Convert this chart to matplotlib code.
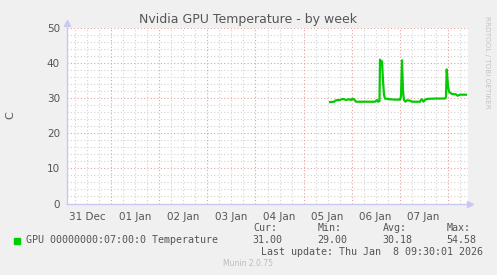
import pandas as pd
import matplotlib
matplotlib.use('Agg')
import matplotlib.pyplot as plt
import matplotlib.dates as mdates

# samples (GPU temperature, deg C)
times = ['2026-01-05 13:15', '2026-01-05 15:15', '2026-01-05 16:15', '2026-01-05 18:15',
         '2026-01-05 19:45', '2026-01-05 21:15', '2026-01-05 22:45', '2026-01-05 23:45',
         '2026-01-06 00:15', '2026-01-06 01:15', '2026-01-06 02:15', '2026-01-06 06:45',
         '2026-01-06 11:45', '2026-01-06 12:45', '2026-01-06 13:15', '2026-01-06 14:00',
         '2026-01-06 14:15', '2026-01-06 14:45', '2026-01-06 15:15', '2026-01-06 15:45',
         '2026-01-06 16:15', '2026-01-06 16:45', '2026-01-06 19:15', '2026-01-06 21:45',
         '2026-01-07 00:15', '2026-01-07 00:45', '2026-01-07 01:15', '2026-01-07 01:45',
         '2026-01-07 02:15', '2026-01-07 03:00', '2026-01-07 03:45', '2026-01-07 05:15',
         '2026-01-07 06:15', '2026-01-07 08:15', '2026-01-07 10:15', '2026-01-07 10:45',
         '2026-01-07 11:15', '2026-01-07 12:00', '2026-01-07 12:45', '2026-01-07 13:45',
         '2026-01-07 17:45', '2026-01-07 22:45', '2026-01-07 23:15', '2026-01-07 23:36',
         '2026-01-08 00:15', '2026-01-08 00:45', '2026-01-08 02:15', '2026-01-08 04:15',
         '2026-01-08 05:00', '2026-01-08 06:15', '2026-01-08 09:15']
temps = [28.9, 29.0, 29.4, 29.5,
         29.8, 29.5, 29.7, 29.5,
         29.8, 29.7, 29.0, 29.0,
         29.0, 29.5, 29.0, 29.2,
         41.0, 40.0, 40.5, 35.0,
         31.0, 29.9, 29.7, 29.6,
         29.6, 30.5, 40.8, 32.0,
         29.5, 29.0, 29.4, 29.3,
         29.0, 29.0, 29.0, 29.5,
         29.7, 29.0, 29.5, 29.8,
         29.9, 29.9, 30.3, 38.2,
         33.5, 31.8, 31.2, 31.1,
         30.7, 31.0, 31.0]

day_labels = ['31 Dec', '01 Jan', '02 Jan', '03 Jan', '04 Jan', '05 Jan', '06 Jan', '07 Jan']
label_noons = pd.date_range('2025-12-31 12:00', periods=8, freq='D')
legend_name = 'GPU 00000000:07:00:0 Temperature'
cur, vmin, avg, vmax = '31.00', '29.00', '30.18', '54.58'

t = mdates.date2num(pd.to_datetime(times))
x_start = mdates.date2num(pd.Timestamp('2025-12-31 01:45'))
x_end = mdates.date2num(pd.Timestamp('2026-01-08 10:15'))

W, H = 497, 275
fig = plt.figure(figsize=(W / 100, H / 100), dpi=100, facecolor='#F0F0F0')
ax = fig.add_axes([67 / W, 1 - 203.5 / H, 401 / W, 175.5 / H])
ax.set_facecolor('white')

# grid: minor grey dots, major red dots
minor_c = '#D2D2D2'
major_c = '#E4A0A0'
for v in range(0, 51, 2):
    if v % 10:
        ax.axhline(v, color=minor_c, lw=0.8, ls=(0, (1, 2)), zorder=1)
for v in range(10, 51, 10):
    ax.axhline(v, color=major_c, lw=0.8, ls=(0, (1, 2)), zorder=1)
for xv in pd.date_range('2025-12-31 06:00', '2026-01-08 12:00', freq='6h'):
    xn = mdates.date2num(xv)
    if xn > x_end:
        break
    c = major_c if xv.hour == 0 else minor_c
    ax.axvline(xn, color=c, lw=0.8, ls=(0, (1, 2)), zorder=1)

ax.plot(t, temps, color='#00CC00', lw=1.6, zorder=3, solid_joinstyle='round')

ax.set_xlim(x_start, x_end)
ax.set_ylim(0, 50)
ax.set_yticks([0, 10, 20, 30, 40, 50])
ax.set_xticks(mdates.date2num(label_noons))
ax.set_xticklabels(day_labels)
ax.tick_params(length=0, labelsize=7.5, colors='#555555', pad=5)
ax.tick_params(axis='x', pad=6)
for s in ['top', 'right']:
    ax.spines[s].set_visible(False)
for s in ['left', 'bottom']:
    ax.spines[s].set_color('#C8C8F0')
    ax.spines[s].set_linewidth(1.0)
ax.plot([0], [1.03], marker='^', ms=5, color='#C8C8F0', transform=ax.transAxes, clip_on=False)
ax.plot([1.005], [0], marker='>', ms=5, color='#C8C8F0', transform=ax.transAxes, clip_on=False)

grey = '#555555'
fig.text(10 / W, 1 - 115 / H, 'C', rotation=90, ha='center', va='center', fontsize=8, color=grey)
fig.text(248 / W, 1 - 19 / H, 'Nvidia GPU Temperature - by week', ha='center', va='center',
         fontsize=9, color=grey)
fig.text(487 / W, 1 - 16 / H, 'RRDTOOL / TOBI OETIKER', rotation=270, ha='center', va='top',
         fontsize=5.2, color='#C4C4C4')

mono = 'DejaVu Sans Mono'
fs = 7.2
fig.patches.append(plt.Rectangle((14 / W, 1 - 244 / H), 6 / W, 6 / H, color='#00CC00',
                                 transform=fig.transFigure, figure=fig))
fig.text(26 / W, 1 - 240 / H, legend_name, family=mono, fontsize=fs, color=grey, va='center')
cols = [253, 318, 383, 447]
heads = ['Cur:', 'Min:', 'Avg:', 'Max:']
vals = [cur, vmin, avg, vmax]
for cx, hd, vv in zip(cols, heads, vals):
    fig.text(cx / W, 1 - 228 / H, hd, family=mono, fontsize=fs, color=grey, va='center')
    fig.text((cx - 1) / W, 1 - 240 / H, vv, family=mono, fontsize=fs, color=grey, va='center')
fig.text(483 / W, 1 - 252 / H, 'Last update: Thu Jan  8 09:30:01 2026', family=mono,
         fontsize=fs, color=grey, va='center', ha='right')
fig.text(248 / W, 1 - 264 / H, 'Munin 2.0.75', fontsize=5.5, color='#BBBBBB', ha='center', va='center')

fig.savefig('out.png', dpi=100, facecolor=fig.get_facecolor())
